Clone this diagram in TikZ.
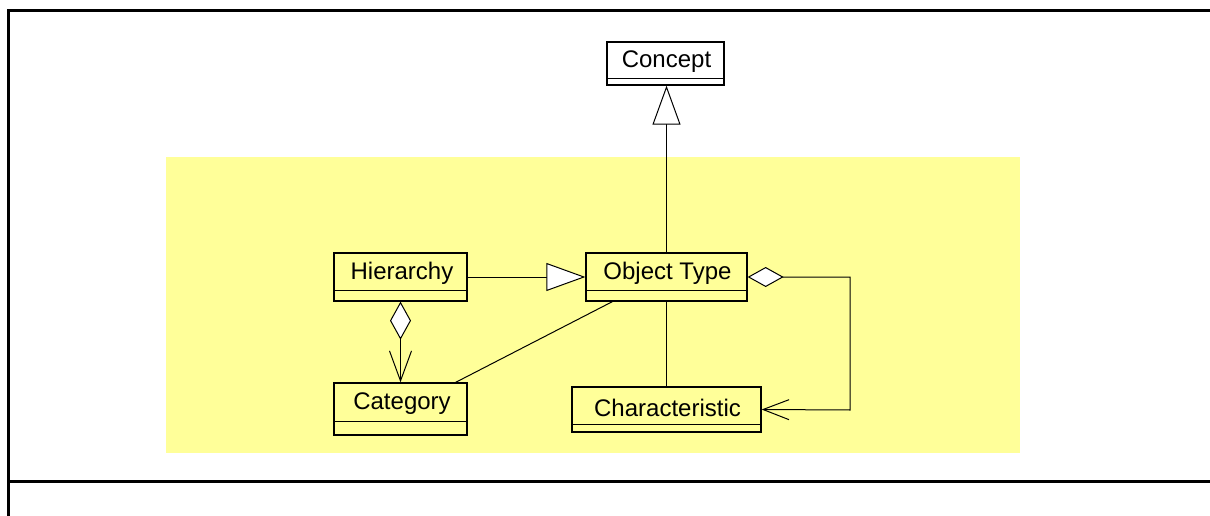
\documentclass[tikz,border=0pt]{standalone}
\usepackage{fontspec}
\setmainfont{Liberation Sans}
\usetikzlibrary{arrows.meta,calc}
\definecolor{pkgyellow}{RGB}{255,255,153}
\begin{document}
\begin{tikzpicture}[x=1pt,y=-1pt,
  box/.style={draw=black,line width=1.3pt,inner sep=0pt,fill=pkgyellow},
  lbl/.style={inner sep=0pt,font=\fontsize{24}{28}\selectfont},
  conn/.style={line width=1pt},
  frameline/.style={line width=3pt},
  gen/.style={-{Triangle[open,fill=white,length=39pt,width=28pt]}},
]
\useasboundingbox (0,0) rectangle (1210,516);
% frame
\draw[frameline] (8,516) -- (8,11) -- (1210,11);
\draw[frameline] (8,481) -- (1210,481);
% package background
\fill[pkgyellow] (166,157) rectangle (1020,453);

% Concept
\node[box,fill=white,minimum width=117pt,minimum height=43pt] (concept) at (665.5,63.5) {};
\node[lbl] (conceptT) at (666.5,62) {Concept};
\draw[line width=1.3pt] ($(concept.south west)+(0,-7)$) -- ($(concept.south east)+(0,-7)$);

% Hierarchy
\node[box,minimum width=133pt,minimum height=48pt] (hier) at (400.5,277) {};
\node[lbl] (hierT) at (402,273.5) {Hierarchy};
\draw[line width=1.3pt] ($(hier.south west)+(0,-11)$) -- ($(hier.south east)+(0,-11)$);

% Object Type
\node[box,minimum width=161pt,minimum height=48pt] (ot) at (666.5,277) {};
\node[lbl] (otT) at (667.5,273.5) {Object Type};
\draw[line width=1.3pt] ($(ot.south west)+(0,-11)$) -- ($(ot.south east)+(0,-11)$);

% Category
\node[box,minimum width=133pt,minimum height=52pt] (cat) at (400.5,409) {};
\node[lbl] (catT) at (402,404) {Category};
\draw[line width=1.3pt] ($(cat.south west)+(0,-14)$) -- ($(cat.south east)+(0,-14)$);

% Characteristic
\node[box,minimum width=189pt,minimum height=45pt] (char) at (666.5,409.5) {};
\node[lbl] (charT) at (667.5,407.5) {Characteristic};
\draw[line width=1.3pt] ($(char.south west)+(0,-8)$) -- ($(char.south east)+(0,-8)$);

% connectors
\draw[conn,gen] (ot.north) -- (ot.north |- concept.south);
\draw[conn,gen] (hier.east) -- (ot.west);
\draw[conn,{Diamond[open,fill=white,length=38pt,width=21pt]}-{Straight Barb[length=30pt,width=22pt]}] (hier.south) -- (cat.north);
\coordinate (bend1) at (850,277);
\coordinate (bend2) at (850,410);
\draw[conn,{Diamond[open,fill=white,length=36pt,width=20pt]}-{Straight Barb[length=26pt,width=20pt]}] (ot.east) -- (bend1) -- (bend2) -- (char.east);
\draw[conn] ($(cat.north east)+(-12,0)$) -- ($(ot.south west)+(27,0)$);
\draw[conn] (ot.south) -- (char.north);
\end{tikzpicture}
\end{document}
